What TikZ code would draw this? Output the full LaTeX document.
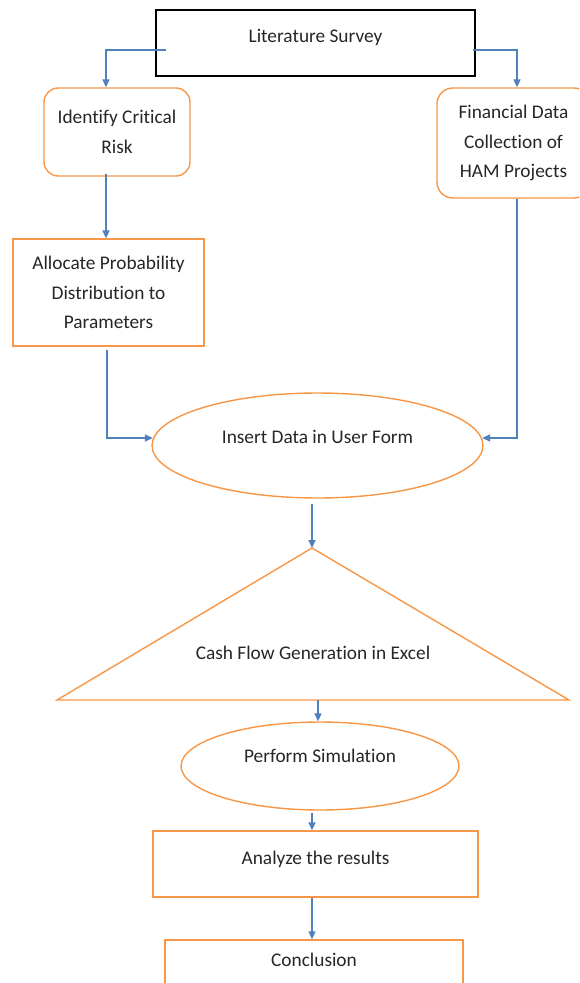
\documentclass[tikz,border=0pt]{standalone}
\usepackage{fontspec}
\setmainfont[Ligatures=NoCommon]{Carlito}
\usetikzlibrary{shapes.geometric, arrows.meta, positioning, calc}
\definecolor{boxorange}{HTML}{F79646}
\definecolor{flowblue}{HTML}{4F81BD}
\definecolor{txtgray}{HTML}{262626}

\begin{document}
\begin{tikzpicture}[x=0.02cm, y=-0.02cm, font=\fontsize{11}{16.8}\selectfont, text=txtgray,
    box/.style={draw=boxorange, line width=0.8pt, align=center, inner sep=0pt},
    oval/.style={draw=boxorange, line width=0.8pt, ellipse, inner sep=0pt, text height=8pt},
    flow/.style={draw=flowblue, line width=0.8pt, -{Triangle[length=4.5pt,width=4pt]}}]
    \clip (0,0) rectangle (579,983);
    % top row
    \node[draw=black, line width=0.7pt, minimum width=6.38cm, minimum height=1.32cm, text height=8pt, text depth=8pt] (lit) at (315.5,43) {Literature Survey};
    \node[box, rounded corners=8pt, minimum width=2.92cm, minimum height=1.76cm] (identify) at (117,132) {Identify Critical\\Risk};
    \node[box, rounded corners=9pt, minimum width=3.06cm, minimum height=2.2cm] (financial) at (513.5,143) {Financial Data\\Collection of\\HAM Projects};
    \node[box, minimum width=3.82cm, minimum height=2.14cm] (allocate) at (108.5,292.5) {Allocate Probability\\Distribution to\\Parameters};
    % middle
    \node[oval, minimum width=6.62cm, minimum height=2.1cm, text depth=10pt] (insert) at (317.5,445.5) {Insert Data in User Form};
    \coordinate (cfLeft) at (57,700);
    \coordinate (cfTop) at (312,548);
    \coordinate (cfRight) at (569,700);
    \coordinate (cfBase) at (318,700);
    \draw[draw=boxorange, line width=0.8pt] (cfLeft) -- (cfTop) -- (cfRight) -- cycle;
    \node (cash) at (313,653) {Cash Flow Generation in Excel};
    % bottom
    \node[oval, minimum width=5.56cm, minimum height=1.76cm, text depth=11.5pt] (perform) at (320,766) {Perform Simulation};
    \node[box, minimum width=6.5cm, minimum height=1.32cm, text height=8pt, text depth=8pt] (analyze) at (315.5,864) {Analyze the results};
    \node[box, minimum width=5.96cm, minimum height=1.12cm, text height=8pt, text depth=10pt] (conclusion) at (314,968) {Conclusion};
    % connectors
    \draw[flow] ($(lit.west)+(11,7)$) -| ($(identify.north)+(-11,0)$);
    \draw[flow] ($(lit.east)+(-3,7)$) -| ($(financial.north)+(3.5,0)$);
    \draw[flow] ($(identify.south)+(-11,-3)$) -- ($(allocate.north)+(-2.5,0)$);
    \draw[flow] ($(allocate.south)+(-1.5,3)$) |- ($(insert.west)+(1.5,-7.5)$);
    \draw[flow] ($(financial.south)+(3.5,0)$) |- ($(insert.east)+(-1.5,-7.5)$);
    \draw[flow] ($(insert.south)+(-5.5,5)$) -- (cfTop);
    \draw[flow] (cfBase) -- (cfBase |- perform.north);
    \draw[flow] ($(perform.south)+(-8,2)$) -- ($(analyze.north)+(-3.5,0)$);
    \draw[flow] ($(analyze.south)+(-3.5,0)$) -- ($(conclusion.north)+(-2,0)$);
\end{tikzpicture}
\end{document}
